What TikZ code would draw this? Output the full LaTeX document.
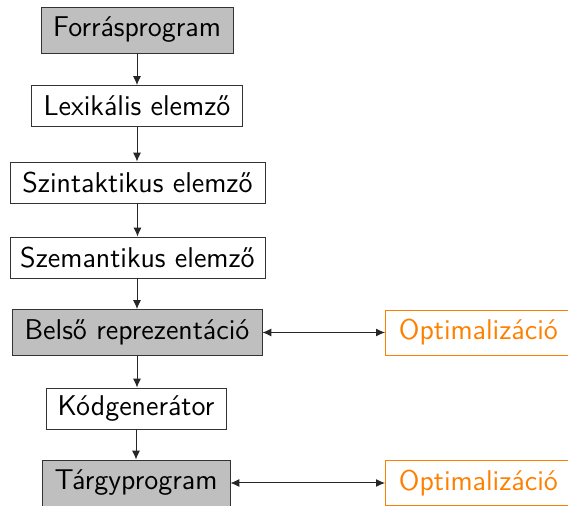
\documentclass[tikz,border=0pt]{standalone}
\usetikzlibrary{arrows.meta}
\definecolor{optorange}{RGB}{255,128,0}
\begin{document}
\begin{tikzpicture}[x=0.5pt,y=-0.5pt,
  every node/.style={font=\sffamily\fontsize{14.3}{17}\selectfont},
  graybox/.style={draw=black!80, fill=gray!50, minimum height=23pt, inner sep=0pt},
  whitebox/.style={draw=black!80, fill=white, minimum height=20.5pt, inner sep=0pt},
  optbox/.style={draw=optorange, text=optorange, minimum height=22.5pt, inner ysep=0pt, inner xsep=5pt, minimum width=93pt, anchor=west},
  conn/.style={draw=black!85, line width=0.5pt, -{Latex[length=4.5pt,width=4pt]}},
  dconn/.style={draw=black!85, line width=0.5pt, {Latex[length=4.5pt,width=4pt]}-{Latex[length=4.5pt,width=4pt]}}]
\useasboundingbox (0,0) rectangle (568,506);
\begin{scope}
\clip (0,0) rectangle (568,506);
\node[graybox, minimum width=96pt] (src) at (137,30) {Forrásprogram};
\node[whitebox, minimum width=105.5pt] (lex) at (137,106) {Lexikális elemző};
\node[whitebox, minimum width=127.5pt] (szin) at (137.5,182.5) {Szintaktikus elemző};
\node[whitebox, minimum width=127.5pt] (szem) at (137.5,257.5) {Szemantikus elemző};
\node[graybox, minimum width=125pt] (bels) at (137,332.5) {Belső reprezentáció};
\node[whitebox, minimum width=90pt] (kod) at (136,408.5) {Kódgenerátor};
\node[graybox, minimum width=94pt] (targy) at (136,483) {Tárgyprogram};
\node[optbox] (opt1) at (385,332.5) {Optimalizáció};
\node[optbox] (opt2) at (385,483) {Optimalizáció};
\end{scope}
\draw[conn] (src) -- (lex);
\draw[conn] (lex) -- (lex|-szin.north);
\draw[conn] (szin) -- (szin|-szem.north);
\draw[conn] (szem.south-|bels) -- (bels);
\draw[conn] (bels) -- (bels|-kod.north);
\draw[conn] (kod.south-|targy) -- (targy);
\draw[dconn] (bels) -- (opt1);
\draw[dconn] (targy) -- (opt2);
\end{tikzpicture}
\end{document}
